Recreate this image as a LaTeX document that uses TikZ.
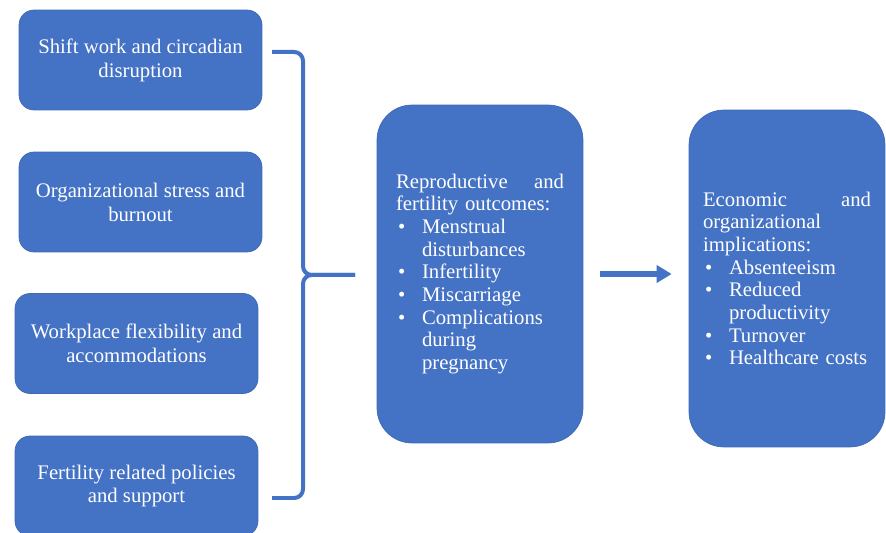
\documentclass[tikz,border=0pt]{standalone}
\usepackage{fontspec}
\setmainfont{Liberation Serif}
\usepackage{tikz}
\usetikzlibrary{arrows.meta}
\usepackage{xcolor}
\definecolor{cblue}{HTML}{4472C4}
\definecolor{cedge}{HTML}{3F68B5}

\newcommand\bitem[1]{\makebox[0.52cm][l]{\hspace{0.04cm}\textbullet}#1}
\newcommand\bcont{\hspace*{0.52cm}}
\newcommand\spread[2]{\makebox[3.36cm][l]{#1\hfill#2}}

\begin{document}
\begin{tikzpicture}[x=0.02cm, y=-0.02cm,
  factor/.style = {rectangle, rounded corners=0.3cm,
                   minimum width=4.86cm, minimum height=2cm,
                   align=center, text=white, fill=cblue, draw=cedge, line width=0.4pt,
                   font=\fontsize{11.8}{13.6}\selectfont},
  panel/.style  = {rectangle, rounded corners=0.7cm,
                   minimum height=6.76cm, inner sep=0pt,
                   text width=3.36cm, align=left, text=white,
                   fill=cblue, draw=cedge, line width=0.4pt,
                   font=\fontsize{11.8}{12.9}\selectfont},
  brace/.style  = {draw=cblue, line width=0.08cm, rounded corners=5pt},
  arr/.style    = {-{Triangle[length=0.3cm, width=0.34cm]}, line width=0.11cm, color=cblue}
]
\useasboundingbox (0,0) rectangle (886,533);

% left column
\node[factor] (shift) at (140.5,60)  {Shift work and circadian\\disruption};
\node[factor] (org)   at (140.5,202) {Organizational stress and\\burnout};
\node[factor] (flex)  at (136.5,343.5) {Workplace flexibility and\\accommodations};
\node[factor] (pol)   at (136.5,486) {Fertility related policies\\and support};

% outcome panels
\node[panel, minimum width=4.12cm] (repro) at (480,274) {%
  \spread{Reproductive}{and}\\
  fertility outcomes:\\
  \bitem{Menstrual}\\
  \bcont disturbances\\
  \bitem{Infertility}\\
  \bitem{Miscarriage}\\
  \bitem{Complications}\\
  \bcont during\\
  \bcont pregnancy};
\node[panel, minimum width=3.92cm, minimum height=6.74cm] (econ) at (787,278.5) {%
  \spread{Economic}{and}\\
  organizational\\
  implications:\\
  \bitem{Absenteeism}\\
  \bitem{Reduced}\\
  \bcont productivity\\
  \bitem{Turnover}\\
  \bitem{Healthcare costs}};

% brace
\coordinate (btop) at (272,52);
\coordinate (bbot) at (272,498);
\coordinate (bmid) at (303,275);
\coordinate (btip) at (355,275);
\draw[brace] (btop) -| (bmid) -- (btip);
\draw[brace] (bbot) -| (bmid) -- (btip);

\draw[arr, shorten <=0.34cm, shorten >=0.34cm] (repro.east) -- (repro.east -| econ.west);
\end{tikzpicture}
\end{document}
